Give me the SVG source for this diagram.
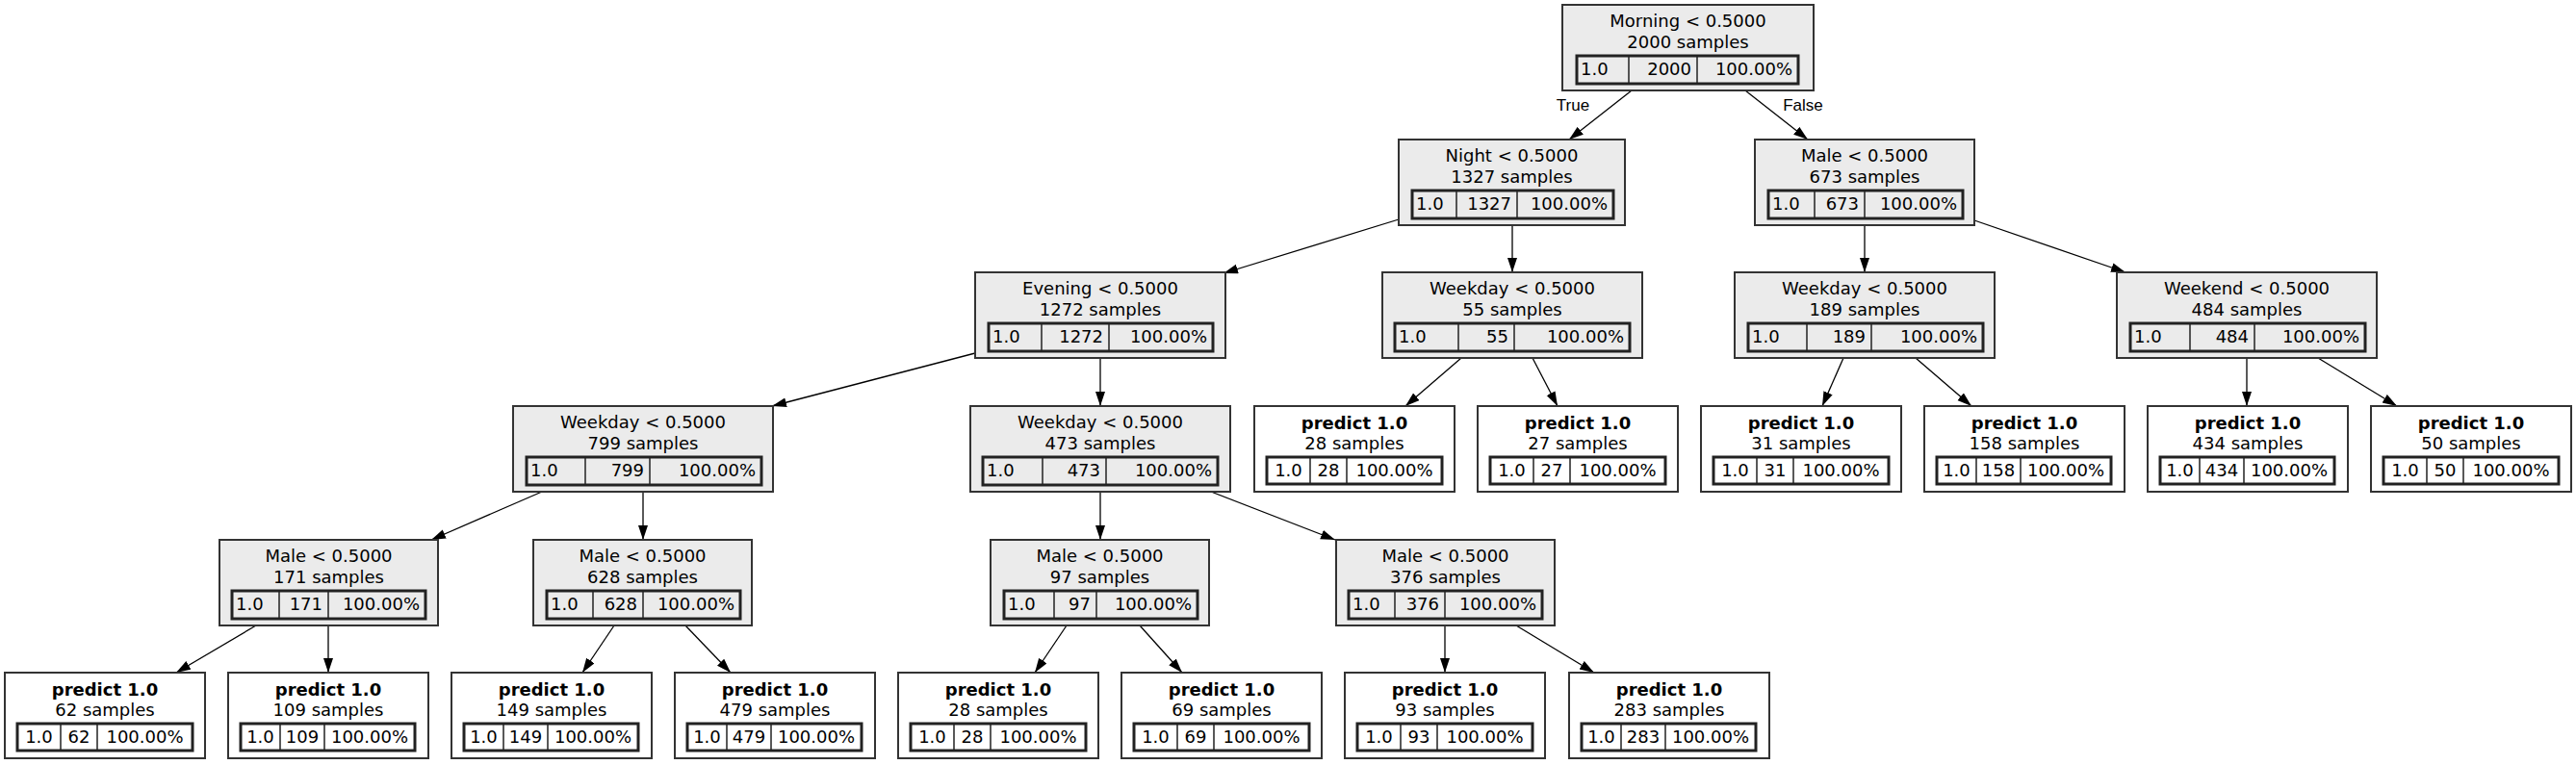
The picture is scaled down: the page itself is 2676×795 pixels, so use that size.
<svg xmlns="http://www.w3.org/2000/svg" width="2676" height="795" viewBox="0 0 2676 795">
<defs>
<style>
.n{fill:#ebebeb;stroke:#333;stroke-width:2}
.l{fill:#fff;stroke:#333;stroke-width:2}
.tb{fill:none;stroke:#222;stroke-width:3}
.cl{stroke:#222;stroke-width:1.5}
text{font-family:"DejaVu Sans",sans-serif;font-size:18px;fill:#000}
.m{text-anchor:middle}
.r{text-anchor:end}
.b{font-weight:bold}
.e{stroke:#000;stroke-width:1.3;fill:none}
.el{font-family:"Liberation Sans",Arial,sans-serif;font-size:17px}
</style>
<marker id="a" markerUnits="userSpaceOnUse" markerWidth="16" markerHeight="11" refX="15" refY="5" orient="auto">
<path d="M0,0 L15,5 L0,10 Z" fill="#000"/>
</marker>
</defs>
<rect width="2676" height="795" fill="#fff"/>
<g id="edges">
<line class="e" x1="1695" y1="94" x2="1630" y2="145" marker-end="url(#a)"/>
<line class="e" x1="1813" y1="94" x2="1878" y2="145" marker-end="url(#a)"/>
<line class="e" x1="1453" y1="228" x2="1271" y2="284" marker-end="url(#a)"/>
<line class="e" x1="1571" y1="234" x2="1571" y2="283" marker-end="url(#a)"/>
<line class="e" x1="1937" y1="234" x2="1937" y2="283" marker-end="url(#a)"/>
<line class="e" x1="2051" y1="229" x2="2208" y2="283" marker-end="url(#a)"/>
<line class="e" x1="1013" y1="367" x2="802" y2="422" marker-end="url(#a)"/>
<line class="e" x1="1143" y1="373" x2="1143" y2="422" marker-end="url(#a)"/>
<line class="e" x1="1518" y1="372" x2="1460" y2="422" marker-end="url(#a)"/>
<line class="e" x1="1592" y1="372" x2="1618" y2="422" marker-end="url(#a)"/>
<line class="e" x1="1915" y1="372" x2="1893" y2="422" marker-end="url(#a)"/>
<line class="e" x1="1990" y1="372" x2="2048" y2="422" marker-end="url(#a)"/>
<line class="e" x1="2334" y1="372" x2="2334" y2="422" marker-end="url(#a)"/>
<line class="e" x1="2408" y1="372" x2="2490" y2="422" marker-end="url(#a)"/>
<line class="e" x1="563" y1="511" x2="448" y2="561" marker-end="url(#a)"/>
<line class="e" x1="668" y1="511" x2="668" y2="561" marker-end="url(#a)"/>
<line class="e" x1="1143" y1="511" x2="1143" y2="561" marker-end="url(#a)"/>
<line class="e" x1="1258" y1="511" x2="1387" y2="561" marker-end="url(#a)"/>
<line class="e" x1="266" y1="650" x2="183" y2="699" marker-end="url(#a)"/>
<line class="e" x1="341" y1="650" x2="341" y2="699" marker-end="url(#a)"/>
<line class="e" x1="638" y1="650" x2="605" y2="699" marker-end="url(#a)"/>
<line class="e" x1="712" y1="650" x2="759" y2="699" marker-end="url(#a)"/>
<line class="e" x1="1108" y1="650" x2="1075" y2="699" marker-end="url(#a)"/>
<line class="e" x1="1184" y1="650" x2="1228" y2="699" marker-end="url(#a)"/>
<line class="e" x1="1501" y1="650" x2="1501" y2="699" marker-end="url(#a)"/>
<line class="e" x1="1575" y1="650" x2="1656" y2="699" marker-end="url(#a)"/>
<text class="el m" x="1634" y="115">True</text>
<text class="el m" x="1873" y="115">False</text>
</g>

<g id="root">
<rect class="n" x="1623" y="5" width="261" height="89"/>
<text class="m" x="1753.5" y="28">Morning &lt; 0.5000</text>
<text class="m" x="1753.5" y="50">2000 samples</text>
<rect class="tb" x="1638" y="58" width="230" height="29"/>
<line class="cl" x1="1692" y1="58" x2="1692" y2="87"/><line class="cl" x1="1763" y1="58" x2="1763" y2="87"/>
<text x="1642" y="78">1.0</text><text class="r" x="1757" y="78">2000</text><text class="r" x="1862" y="78">100.00%</text>
</g>

<g id="night">
<rect class="n" x="1453" y="145" width="235" height="89"/>
<text class="m" x="1570.5" y="168">Night &lt; 0.5000</text>
<text class="m" x="1570.5" y="190">1327 samples</text>
<rect class="tb" x="1467" y="198" width="209" height="29"/>
<line class="cl" x1="1513" y1="198" x2="1513" y2="227"/><line class="cl" x1="1576" y1="198" x2="1576" y2="227"/>
<text x="1471" y="218">1.0</text><text class="r" x="1570" y="218">1327</text><text class="r" x="1670" y="218">100.00%</text>
</g>

<g id="male673">
<rect class="n" x="1823" y="145" width="228" height="89"/>
<text class="m" x="1937" y="168">Male &lt; 0.5000</text>
<text class="m" x="1937" y="190">673 samples</text>
<rect class="tb" x="1837" y="198" width="202" height="29"/>
<line class="cl" x1="1885" y1="198" x2="1885" y2="227"/><line class="cl" x1="1937" y1="198" x2="1937" y2="227"/>
<text x="1841" y="218">1.0</text><text class="r" x="1931" y="218">673</text><text class="r" x="2033" y="218">100.00%</text>
</g>

<g id="evening">
<rect class="n" x="1013" y="283" width="260" height="89"/>
<text class="m" x="1143" y="306">Evening &lt; 0.5000</text>
<text class="m" x="1143" y="328">1272 samples</text>
<rect class="tb" x="1027" y="336" width="233" height="29"/>
<line class="cl" x1="1082" y1="336" x2="1082" y2="365"/><line class="cl" x1="1152" y1="336" x2="1152" y2="365"/>
<text x="1031" y="356">1.0</text><text class="r" x="1146" y="356">1272</text><text class="r" x="1254" y="356">100.00%</text>
</g>

<g id="weekday55">
<rect class="n" x="1436" y="283" width="270" height="89"/>
<text class="m" x="1571" y="306">Weekday &lt; 0.5000</text>
<text class="m" x="1571" y="328">55 samples</text>
<rect class="tb" x="1449" y="336" width="244" height="29"/>
<line class="cl" x1="1515" y1="336" x2="1515" y2="365"/><line class="cl" x1="1573" y1="336" x2="1573" y2="365"/>
<text x="1453" y="356">1.0</text><text class="r" x="1567" y="356">55</text><text class="r" x="1687" y="356">100.00%</text>
</g>

<g id="weekday189">
<rect class="n" x="1802" y="283" width="270" height="89"/>
<text class="m" x="1937" y="306">Weekday &lt; 0.5000</text>
<text class="m" x="1937" y="328">189 samples</text>
<rect class="tb" x="1816" y="336" width="244" height="29"/>
<line class="cl" x1="1877" y1="336" x2="1877" y2="365"/><line class="cl" x1="1944" y1="336" x2="1944" y2="365"/>
<text x="1820" y="356">1.0</text><text class="r" x="1938" y="356">189</text><text class="r" x="2054" y="356">100.00%</text>
</g>

<g id="weekend484">
<rect class="n" x="2199" y="283" width="270" height="89"/>
<text class="m" x="2334" y="306">Weekend &lt; 0.5000</text>
<text class="m" x="2334" y="328">484 samples</text>
<rect class="tb" x="2213" y="336" width="244" height="29"/>
<line class="cl" x1="2275" y1="336" x2="2275" y2="365"/><line class="cl" x1="2342" y1="336" x2="2342" y2="365"/>
<text x="2217" y="356">1.0</text><text class="r" x="2336" y="356">484</text><text class="r" x="2451" y="356">100.00%</text>
</g>

<g id="weekday799">
<rect class="n" x="533" y="422" width="270" height="89"/>
<text class="m" x="668" y="445">Weekday &lt; 0.5000</text>
<text class="m" x="668" y="467">799 samples</text>
<rect class="tb" x="547" y="475" width="244" height="29"/>
<line class="cl" x1="608" y1="475" x2="608" y2="504"/><line class="cl" x1="675" y1="475" x2="675" y2="504"/>
<text x="551" y="495">1.0</text><text class="r" x="669" y="495">799</text><text class="r" x="785" y="495">100.00%</text>
</g>

<g id="weekday473">
<rect class="n" x="1008" y="422" width="270" height="89"/>
<text class="m" x="1143" y="445">Weekday &lt; 0.5000</text>
<text class="m" x="1143" y="467">473 samples</text>
<rect class="tb" x="1021" y="475" width="244" height="29"/>
<line class="cl" x1="1083" y1="475" x2="1083" y2="504"/><line class="cl" x1="1149" y1="475" x2="1149" y2="504"/>
<text x="1025" y="495">1.0</text><text class="r" x="1143" y="495">473</text><text class="r" x="1259" y="495">100.00%</text>
</g>

<g id="male171">
<rect class="n" x="228" y="561" width="227" height="89"/>
<text class="m" x="341.5" y="584">Male &lt; 0.5000</text>
<text class="m" x="341.5" y="606">171 samples</text>
<rect class="tb" x="241" y="614" width="201" height="29"/>
<line class="cl" x1="290" y1="614" x2="290" y2="643"/><line class="cl" x1="341" y1="614" x2="341" y2="643"/>
<text x="245" y="634">1.0</text><text class="r" x="335" y="634">171</text><text class="r" x="436" y="634">100.00%</text>
</g>

<g id="male628">
<rect class="n" x="554" y="561" width="227" height="89"/>
<text class="m" x="667.5" y="584">Male &lt; 0.5000</text>
<text class="m" x="667.5" y="606">628 samples</text>
<rect class="tb" x="568" y="614" width="201" height="29"/>
<line class="cl" x1="616" y1="614" x2="616" y2="643"/><line class="cl" x1="668" y1="614" x2="668" y2="643"/>
<text x="572" y="634">1.0</text><text class="r" x="662" y="634">628</text><text class="r" x="763" y="634">100.00%</text>
</g>

<g id="male97">
<rect class="n" x="1029" y="561" width="227" height="89"/>
<text class="m" x="1142.5" y="584">Male &lt; 0.5000</text>
<text class="m" x="1142.5" y="606">97 samples</text>
<rect class="tb" x="1043" y="614" width="201" height="29"/>
<line class="cl" x1="1095" y1="614" x2="1095" y2="643"/><line class="cl" x1="1139" y1="614" x2="1139" y2="643"/>
<text x="1047" y="634">1.0</text><text class="r" x="1133" y="634">97</text><text class="r" x="1238" y="634">100.00%</text>
</g>

<g id="male376">
<rect class="n" x="1388" y="561" width="227" height="89"/>
<text class="m" x="1501.5" y="584">Male &lt; 0.5000</text>
<text class="m" x="1501.5" y="606">376 samples</text>
<rect class="tb" x="1401" y="614" width="201" height="29"/>
<line class="cl" x1="1449" y1="614" x2="1449" y2="643"/><line class="cl" x1="1501" y1="614" x2="1501" y2="643"/>
<text x="1405" y="634">1.0</text><text class="r" x="1495" y="634">376</text><text class="r" x="1596" y="634">100.00%</text>
</g>

<g id="leaf28a">
<rect class="l" x="1303" y="422" width="208" height="89"/>
<text class="m b" x="1407" y="446">predict 1.0</text>
<text class="m" x="1407" y="467">28 samples</text>
<rect class="tb" x="1316" y="475" width="182" height="28"/>
<line class="cl" x1="1361" y1="475" x2="1361" y2="503"/><line class="cl" x1="1399" y1="475" x2="1399" y2="503"/>
<text class="m" x="1338.5" y="495">1.0</text><text class="m" x="1380" y="495">28</text><text class="m" x="1448.5" y="495">100.00%</text>
</g>

<g id="leaf27">
<rect class="l" x="1535" y="422" width="208" height="89"/>
<text class="m b" x="1639" y="446">predict 1.0</text>
<text class="m" x="1639" y="467">27 samples</text>
<rect class="tb" x="1548" y="475" width="182" height="28"/>
<line class="cl" x1="1593" y1="475" x2="1593" y2="503"/><line class="cl" x1="1631" y1="475" x2="1631" y2="503"/>
<text class="m" x="1570.5" y="495">1.0</text><text class="m" x="1612" y="495">27</text><text class="m" x="1680.5" y="495">100.00%</text>
</g>

<g id="leaf31">
<rect class="l" x="1767" y="422" width="208" height="89"/>
<text class="m b" x="1871" y="446">predict 1.0</text>
<text class="m" x="1871" y="467">31 samples</text>
<rect class="tb" x="1780" y="475" width="182" height="28"/>
<line class="cl" x1="1825" y1="475" x2="1825" y2="503"/><line class="cl" x1="1863" y1="475" x2="1863" y2="503"/>
<text class="m" x="1802.5" y="495">1.0</text><text class="m" x="1844" y="495">31</text><text class="m" x="1912.5" y="495">100.00%</text>
</g>

<g id="leaf158">
<rect class="l" x="1999" y="422" width="208" height="89"/>
<text class="m b" x="2103" y="446">predict 1.0</text>
<text class="m" x="2103" y="467">158 samples</text>
<rect class="tb" x="2012" y="475" width="181" height="28"/>
<line class="cl" x1="2053" y1="475" x2="2053" y2="503"/><line class="cl" x1="2099" y1="475" x2="2099" y2="503"/>
<text class="m" x="2032.5" y="495">1.0</text><text class="m" x="2076" y="495">158</text><text class="m" x="2146" y="495">100.00%</text>
</g>

<g id="leaf434">
<rect class="l" x="2231" y="422" width="208" height="89"/>
<text class="m b" x="2335" y="446">predict 1.0</text>
<text class="m" x="2335" y="467">434 samples</text>
<rect class="tb" x="2244" y="475" width="181" height="28"/>
<line class="cl" x1="2285" y1="475" x2="2285" y2="503"/><line class="cl" x1="2331" y1="475" x2="2331" y2="503"/>
<text class="m" x="2264.5" y="495">1.0</text><text class="m" x="2308" y="495">434</text><text class="m" x="2378" y="495">100.00%</text>
</g>

<g id="leaf50">
<rect class="l" x="2463" y="422" width="208" height="89"/>
<text class="m b" x="2567" y="446">predict 1.0</text>
<text class="m" x="2567" y="467">50 samples</text>
<rect class="tb" x="2476" y="475" width="182" height="28"/>
<line class="cl" x1="2521" y1="475" x2="2521" y2="503"/><line class="cl" x1="2559" y1="475" x2="2559" y2="503"/>
<text class="m" x="2498.5" y="495">1.0</text><text class="m" x="2540" y="495">50</text><text class="m" x="2608.5" y="495">100.00%</text>
</g>

<g id="leaf62">
<rect class="l" x="5" y="699" width="208" height="89"/>
<text class="m b" x="109" y="723">predict 1.0</text>
<text class="m" x="109" y="744">62 samples</text>
<rect class="tb" x="18" y="752" width="182" height="28"/>
<line class="cl" x1="63" y1="752" x2="63" y2="780"/><line class="cl" x1="101" y1="752" x2="101" y2="780"/>
<text class="m" x="40.5" y="772">1.0</text><text class="m" x="82" y="772">62</text><text class="m" x="150.5" y="772">100.00%</text>
</g>

<g id="leaf109">
<rect class="l" x="237" y="699" width="208" height="89"/>
<text class="m b" x="341" y="723">predict 1.0</text>
<text class="m" x="341" y="744">109 samples</text>
<rect class="tb" x="250" y="752" width="181" height="28"/>
<line class="cl" x1="291" y1="752" x2="291" y2="780"/><line class="cl" x1="337" y1="752" x2="337" y2="780"/>
<text class="m" x="270.5" y="772">1.0</text><text class="m" x="314" y="772">109</text><text class="m" x="384" y="772">100.00%</text>
</g>

<g id="leaf149">
<rect class="l" x="469" y="699" width="208" height="89"/>
<text class="m b" x="573" y="723">predict 1.0</text>
<text class="m" x="573" y="744">149 samples</text>
<rect class="tb" x="482" y="752" width="181" height="28"/>
<line class="cl" x1="523" y1="752" x2="523" y2="780"/><line class="cl" x1="569" y1="752" x2="569" y2="780"/>
<text class="m" x="502.5" y="772">1.0</text><text class="m" x="546" y="772">149</text><text class="m" x="616" y="772">100.00%</text>
</g>

<g id="leaf479">
<rect class="l" x="701" y="699" width="208" height="89"/>
<text class="m b" x="805" y="723">predict 1.0</text>
<text class="m" x="805" y="744">479 samples</text>
<rect class="tb" x="714" y="752" width="181" height="28"/>
<line class="cl" x1="755" y1="752" x2="755" y2="780"/><line class="cl" x1="801" y1="752" x2="801" y2="780"/>
<text class="m" x="734.5" y="772">1.0</text><text class="m" x="778" y="772">479</text><text class="m" x="848" y="772">100.00%</text>
</g>

<g id="leaf28b">
<rect class="l" x="933" y="699" width="208" height="89"/>
<text class="m b" x="1037" y="723">predict 1.0</text>
<text class="m" x="1037" y="744">28 samples</text>
<rect class="tb" x="946" y="752" width="182" height="28"/>
<line class="cl" x1="991" y1="752" x2="991" y2="780"/><line class="cl" x1="1029" y1="752" x2="1029" y2="780"/>
<text class="m" x="968.5" y="772">1.0</text><text class="m" x="1010" y="772">28</text><text class="m" x="1078.5" y="772">100.00%</text>
</g>

<g id="leaf69">
<rect class="l" x="1165" y="699" width="208" height="89"/>
<text class="m b" x="1269" y="723">predict 1.0</text>
<text class="m" x="1269" y="744">69 samples</text>
<rect class="tb" x="1178" y="752" width="182" height="28"/>
<line class="cl" x1="1223" y1="752" x2="1223" y2="780"/><line class="cl" x1="1261" y1="752" x2="1261" y2="780"/>
<text class="m" x="1200.5" y="772">1.0</text><text class="m" x="1242" y="772">69</text><text class="m" x="1310.5" y="772">100.00%</text>
</g>

<g id="leaf93">
<rect class="l" x="1397" y="699" width="208" height="89"/>
<text class="m b" x="1501" y="723">predict 1.0</text>
<text class="m" x="1501" y="744">93 samples</text>
<rect class="tb" x="1410" y="752" width="182" height="28"/>
<line class="cl" x1="1455" y1="752" x2="1455" y2="780"/><line class="cl" x1="1493" y1="752" x2="1493" y2="780"/>
<text class="m" x="1432.5" y="772">1.0</text><text class="m" x="1474" y="772">93</text><text class="m" x="1542.5" y="772">100.00%</text>
</g>

<g id="leaf283">
<rect class="l" x="1630" y="699" width="208" height="89"/>
<text class="m b" x="1734" y="723">predict 1.0</text>
<text class="m" x="1734" y="744">283 samples</text>
<rect class="tb" x="1643" y="752" width="181" height="28"/>
<line class="cl" x1="1684" y1="752" x2="1684" y2="780"/><line class="cl" x1="1730" y1="752" x2="1730" y2="780"/>
<text class="m" x="1663.5" y="772">1.0</text><text class="m" x="1707" y="772">283</text><text class="m" x="1777" y="772">100.00%</text>
</g>
</svg>
